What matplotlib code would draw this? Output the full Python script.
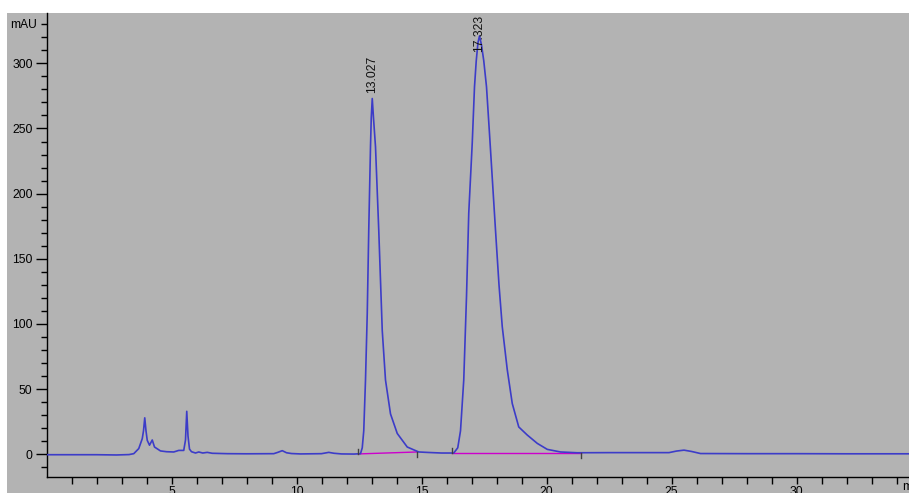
import numpy as np
import matplotlib
matplotlib.use('Agg')
import matplotlib.pyplot as plt
from matplotlib.patches import Rectangle

plt.rcParams['font.family'] = ['Liberation Sans', 'DejaVu Sans']

# signal (min, mAU)
time_min = [0.0, 1.0, 2.0, 2.8, 3.3, 3.49, 3.69, 3.83, 3.88, 3.93, 3.98, 4.03,
            4.12, 4.23, 4.32, 4.56, 4.8, 5.09, 5.29, 5.49, 5.56, 5.61, 5.66,
            5.72, 5.8, 5.96, 6.09, 6.25, 6.43, 6.63, 7.23, 8.0, 9.09, 9.25,
            9.43, 9.6, 9.8, 10.16, 11.0, 11.29, 11.5, 11.8, 12.3, 12.56, 12.63,
            12.69, 12.76, 12.83, 12.89, 12.96, 12.99, 13.03, 13.08, 13.16,
            13.29, 13.43, 13.56, 13.76, 14.03, 14.43, 14.89, 15.3, 15.8, 16.29,
            16.45, 16.56, 16.69, 16.8, 16.89, 17.03, 17.12, 17.19, 17.26, 17.32,
            17.4, 17.49, 17.6, 17.73, 17.96, 18.1, 18.23, 18.43, 18.63, 18.89,
            19.23, 19.63, 20.03, 20.56, 21.23, 22.5, 24.0, 24.9, 25.2, 25.5,
            25.8, 26.16, 28.0, 30.0, 32.0, 34.5]
signal_mau = [-0.3, -0.3, -0.3, -0.5, -0.2, 0.5, 4.4, 12, 18, 28, 18, 10.7,
              7, 11, 5.6, 2.6, 2.0, 1.8, 3, 3, 11, 33, 14,
              4, 2.0, 1, 1.8, 1, 1.5, 0.8, 0.5, 0.4, 0.5, 1.5,
              2.8, 1.2, 0.6, 0.3, 0.5, 1.5, 0.8, 0.3, 0.2, 0.5, 5,
              18, 57, 108, 172, 236, 258, 273, 258, 236,
              172, 95, 57, 31, 16, 5.6, 1.8, 1.4, 1.0, 1.0,
              5, 18, 57, 121, 185, 239, 282, 302, 316, 321,
              314, 302, 282, 243, 172, 130, 98, 65, 39, 21,
              14.8, 8.4, 3.8, 1.8, 1.2, 1.3, 1.3, 1.3, 2.5, 3.2,
              2.2, 0.6, 0.5, 0.5, 0.4, 0.4]

# integrated peaks
peak_rt = [13.027, 17.323]
peak_label_y = [277, 309]
base_start_t = [12.47, 16.2]
base_start_v = [0.3, 0.8]
base_end_t = [14.83, 21.36]
base_end_v = [1.8, 0.8]

x_ticks = [5, 10, 15, 20, 25, 30]
y_ticks = [0, 50, 100, 150, 200, 250, 300]

GREY = '#b3b3b3'
TRACE = '#3c3cc8'
BASE = '#cc00cc'

W, H = 909, 493
fig = plt.figure(figsize=(W / 100, H / 100), dpi=100)
fig.patches.append(Rectangle((7 / W, 0), 1, (H - 13) / H, transform=fig.transFigure,
                             facecolor=GREY, edgecolor='none', zorder=-5))

ax = fig.add_axes([46.5 / W, 16 / H, 1 - 46.5 / W, (477 - 13) / H])
ax.set_facecolor(GREY)
ax.plot(time_min, signal_mau, color=TRACE, lw=1.2, zorder=3,
        solid_joinstyle='round')

for t0, v0, t1, v1 in zip(base_start_t, base_start_v, base_end_t, base_end_v):
    ax.plot([t0, t1], [v0, v1], color=BASE, lw=1.0, zorder=2)
    ax.plot([t0, t0], [v0, v0 + 4], color='#404040', lw=1.0, zorder=4)
    ax.plot([t1, t1], [v1, v1 - 4], color='#404040', lw=1.0, zorder=4)

for rt, ly in zip(peak_rt, peak_label_y):
    ax.text(rt, ly, f'{rt:.3f}', rotation=90, ha='center', va='bottom',
            fontsize=8.7, color='#101010', zorder=5)

ax.set_xlim(0, 34.5)
ax.set_ylim(-17.4, 338.6)

ax.set_xticks(x_ticks)
ax.set_xticks(np.arange(1, 35, 1), minor=True)
ax.set_yticks(y_ticks)
ax.set_yticks(np.arange(-10, 331, 10), minor=True)
ax.tick_params(axis='x', which='both', direction='out', length=5, width=1,
               labelsize=8.7, pad=1.5)
ax.tick_params(axis='y', which='major', direction='out', length=8, width=1,
               labelsize=8.7, pad=2)
ax.tick_params(axis='y', which='minor', direction='out', length=4, width=1)

for side in ['top', 'right']:
    ax.spines[side].set_visible(False)
for side in ['left', 'bottom']:
    ax.spines[side].set_linewidth(1.0)

fig.text(10 / W, 1 - 25 / H, 'mAU', fontsize=8.7, va='center', ha='left')
fig.text(902 / W, 1 - 487 / H, 'min', fontsize=8.7, va='center', ha='left')

fig.savefig('out.png', dpi=100)
